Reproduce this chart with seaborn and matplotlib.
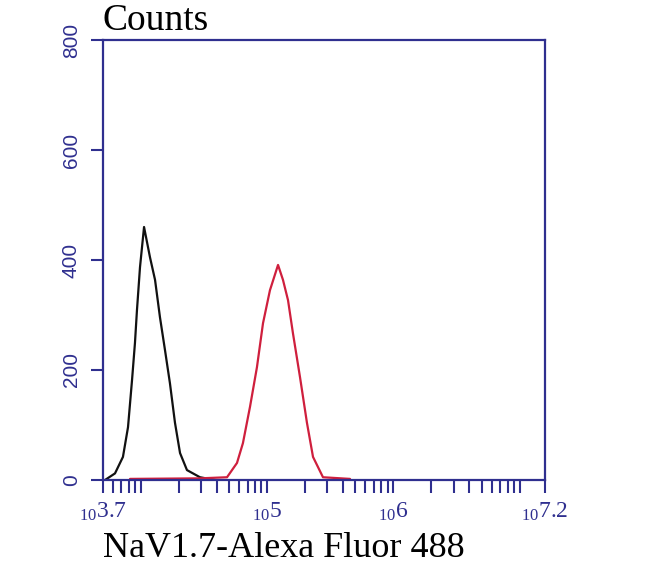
import numpy as np
import pandas as pd
import matplotlib
matplotlib.use("Agg")
import matplotlib.pyplot as plt
import matplotlib.transforms as mtransforms
from matplotlib.ticker import NullLocator
import seaborn as sns

sns.set_style("white")
plt.rcParams['font.family'] = ['Liberation Serif', 'DejaVu Serif']
plt.rcParams['mathtext.default'] = 'regular'
plt.rcParams['text.color'] = 'black'

NAVY = "#2f2f8f"

# ---- data (log10 intensity vs counts) ----
black_log = [3.716, 3.795, 3.858, 3.898, 3.930, 3.953, 3.969, 3.993, 4.025,
             4.072, 4.112, 4.151, 4.191, 4.230, 4.270, 4.310, 4.365, 4.468, 4.587]
black_counts = [0, 12, 42, 96, 182, 249, 309, 387, 460,
                405, 364, 296, 236, 176, 104, 49, 18, 5, 0]

red_log = [3.914, 4.468, 4.682, 4.761, 4.808, 4.864, 4.919, 4.967, 5.022,
           5.086, 5.125, 5.165, 5.204, 5.260, 5.315, 5.363, 5.442, 5.656]
red_counts = [2, 3, 5, 31, 67, 133, 205, 285, 345,
              391, 364, 327, 267, 187, 104, 42, 5, 2]

xtick_exps = [3.7, 5, 6, 7.2]
xtick_texts = ["3.7", "5", "6", "7.2"]
yticks = [0, 200, 400, 600, 800]

df = pd.concat([
    pd.DataFrame({"intensity": 10 ** np.array(black_log), "counts": black_counts, "sample": "control"}),
    pd.DataFrame({"intensity": 10 ** np.array(red_log), "counts": red_counts, "sample": "NaV1.7"}),
], ignore_index=True)

fig = plt.figure(figsize=(6.5, 5.67), dpi=100)
ax = fig.add_axes([103 / 650, 1 - 480 / 567, 442 / 650, 440 / 567])

sns.lineplot(data=df, x="intensity", y="counts", hue="sample",
             palette={"control": "#111111", "NaV1.7": "#cf1f3d"},
             sort=False, estimator=None, legend=False, ax=ax, linewidth=1.6)

ax.set_xscale("log")
ax.set_xlim(10 ** 3.7, 10 ** 7.2)
ax.set_ylim(0, 800)

# log ticks, all same length, no automatic labels
ticks = [10 ** 3.7]
for n in range(3, 8):
    for k in range(1, 10):
        v = k * 10 ** n
        if 10 ** 3.7 < v < 10 ** 7.2:
            ticks.append(v)
ticks.append(10 ** 7.2)
ax.set_xticks(ticks)
ax.set_xticklabels([])
ax.xaxis.set_minor_locator(NullLocator())

ax.set_yticks(yticks)
ax.set_yticklabels([str(v) for v in yticks], rotation=90, va="center",
                   family="Liberation Sans", fontsize=15, color=NAVY)
ax.tick_params(axis="both", direction="out", length=9, width=1.5,
               color=NAVY, bottom=True, left=True)
ax.tick_params(axis="y", pad=7)

for s in ax.spines.values():
    s.set_color(NAVY)
    s.set_linewidth(1.6)

trans = mtransforms.blended_transform_factory(ax.transData, ax.transAxes)
for e, t in zip(xtick_exps, xtick_texts):
    ax.text(10 ** e, -0.072, "$_{10}$" + t, transform=trans, ha="center",
            va="center", fontsize=17, color=NAVY)

ax.set_xlabel("")
ax.set_ylabel("")

fig.text(103 / 650, 1 - 30 / 567, "Counts", fontsize=27, ha="left", va="baseline")
fig.text(103 / 650, 1 - 557 / 567, "NaV1.7-Alexa Fluor 488", fontsize=26,
         ha="left", va="baseline")

fig.savefig("out.png", dpi=100, facecolor="white")
